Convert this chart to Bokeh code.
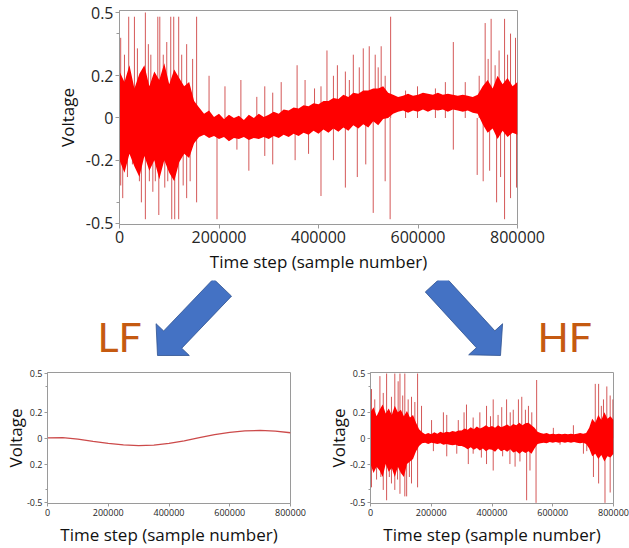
import math
from bokeh.plotting import figure
from bokeh.layouts import column, row
from bokeh.models import FixedTicker, Range1d, Label
from bokeh.embed import file_html
from bokeh.resources import INLINE

# ---------------- data ----------------
x_ticks = [0, 200000, 400000, 600000, 800000]
x_tick_labels = ["0", "200000", "400000", "600000", "800000"]
y_ticks = [-0.5, -0.2, 0, 0.2, 0.5]
y_minor_ticks = [-0.4, 0.4]
y_tick_labels = ["-0.5", "-0.2", "0", "0.2", "0.5"]
lf_y_tick_labels = ["-0.5", "0.2", "0", "0.2", "0.5"]

# sample positions of the envelope readings (every 10000 samples)
time_step = list(range(0, 800001, 10000))

# raw signal: dense core envelope
raw_upper = [0.22, 0.17, 0.25, 0.14, 0.21, 0.25, 0.15, 0.22, 0.18, 0.26, 0.16, 0.23, 0.19, 0.15, 0.17, 0.08,
             0.05, 0.02, 0.035, 0.005, 0.02, -0.005, 0.015, 0.0, 0.01, -0.01, 0.015, 0.0, 0.02, 0.005,
             0.015, 0.03, 0.02, 0.04, 0.035, 0.05, 0.045, 0.06, 0.055, 0.07, 0.065, 0.08, 0.08, 0.095, 0.09,
             0.11, 0.10, 0.12, 0.115, 0.13, 0.13, 0.14, 0.14, 0.15, 0.12,
             0.11, 0.10, 0.105, 0.115, 0.105, 0.11, 0.12, 0.115, 0.11, 0.12, 0.11, 0.115, 0.11, 0.105, 0.11,
             0.105, 0.10, 0.11,
             0.15, 0.18, 0.14, 0.20, 0.16, 0.19, 0.15, 0.17]
raw_lower = [-0.20, -0.26, -0.17, -0.23, -0.28, -0.18, -0.25, -0.20, -0.29, -0.20, -0.26, -0.30, -0.21, -0.17,
             -0.19, -0.12,
             -0.09, -0.08, -0.095, -0.085, -0.10, -0.09, -0.11, -0.095, -0.10, -0.09, -0.105, -0.095, -0.10, -0.09,
             -0.10, -0.085, -0.095, -0.08, -0.09, -0.075, -0.085, -0.07, -0.08, -0.06, -0.075, -0.055, -0.07,
             -0.05, -0.065, -0.045, -0.06, -0.035, -0.05, -0.03, -0.045, -0.015, -0.035, -0.005, 0.0,
             0.02, 0.03, 0.035, 0.025, 0.035, 0.03, 0.04, 0.03, 0.04, 0.035, 0.04, 0.03, 0.04, 0.035, 0.03,
             0.035, 0.025, 0.02,
             -0.03, -0.07, -0.05, -0.10, -0.06, -0.09, -0.07, -0.08]

# raw signal: isolated spikes (sample, peak voltage)
raw_spike_x = [2400, 10000, 18500, 30000, 36000, 52000, 58000, 63000, 77000, 81000, 88000, 95000, 103000,
               109000, 119000, 125000, 135000, 147000, 155000, 180000, 212000, 244000, 276000, 292000, 308000,
               325000, 357000, 373000, 392000, 405000, 417000, 430000, 438000, 454000, 462000, 470000, 482000,
               490000, 502000, 514000, 520000, 526000, 534000, 545000, 575000, 599000, 635000, 655000,
               671000, 695000, 723000, 735000, 741000, 747000, 755000, 763000, 774000, 780000, 786000, 796000,
               2400, 6500, 16000, 26000, 40000, 44000, 52000, 60000, 67000, 72000, 79000, 91000, 97000,
               105000, 111000, 119000, 128000, 135000, 142000, 155000, 196000, 236000, 260000, 292000,
               308000, 353000, 380000, 405000, 430000, 454000, 478000, 495000, 510000, 534000, 544000,
               671000, 719000, 731000, 744000, 758000, 766000, 774000, 786000, 798000]
raw_spike_v = [0.38, 0.30, 0.48, 0.48, 0.33, 0.50, 0.35, 0.30, 0.48, 0.48, 0.30, 0.36, 0.48,
               0.48, 0.48, 0.30, 0.35, 0.28, 0.48, 0.20, 0.15, 0.18, 0.10, 0.15, 0.12,
               0.17, 0.25, 0.18, 0.14, 0.15, 0.32, 0.20, 0.25, 0.22, 0.18, 0.30, 0.24,
               0.33, 0.34, 0.30, 0.24, 0.34, 0.20, 0.48, 0.13, 0.15, 0.14, 0.17,
               0.36, 0.17, 0.20, 0.45, 0.28, 0.47, 0.25, 0.32, 0.47, 0.30, 0.40, 0.38,
               -0.32, -0.38, -0.28, -0.22, -0.30, -0.40, -0.48, -0.30, -0.35, -0.30, -0.46, -0.33, -0.30,
               -0.48, -0.48, -0.48, -0.32, -0.38, -0.30, -0.40, -0.48, -0.15, -0.25, -0.18,
               -0.22, -0.20, -0.17, -0.37, -0.20, -0.33, -0.28, -0.22, -0.45, -0.30, -0.48,
               -0.15, -0.27, -0.30, -0.25, -0.40, -0.28, -0.48, -0.38, -0.33]

# low-frequency component
lf_x = [0, 50000, 100000, 150000, 200000, 250000, 300000, 350000, 400000, 450000, 500000, 550000,
        600000, 650000, 700000, 750000, 800000]
lf_v = [0.003, 0.005, -0.008, -0.025, -0.040, -0.052, -0.057, -0.053, -0.040, -0.020, 0.005, 0.028,
        0.045, 0.056, 0.060, 0.055, 0.042]

# high-frequency component: dense core envelope
hf_upper = [0.20, 0.24, 0.17, 0.22, 0.26, 0.19, 0.23, 0.18, 0.25, 0.20, 0.22, 0.17, 0.21, 0.16, 0.18, 0.12, 0.07,
            0.045, 0.03, 0.04, 0.03, 0.045, 0.035, 0.05, 0.04, 0.05, 0.045, 0.055, 0.05, 0.06,
            0.06, 0.075, 0.065, 0.085, 0.07, 0.09, 0.075, 0.085, 0.10, 0.085, 0.095, 0.08, 0.10, 0.085, 0.095,
            0.105, 0.09, 0.11, 0.10, 0.12, 0.10, 0.115, 0.12, 0.10, 0.08,
            0.05, 0.04, 0.035, 0.04, 0.03, 0.035, 0.03, 0.035, 0.03, 0.035, 0.03, 0.035, 0.03, 0.035, 0.04,
            0.035, 0.04,
            0.08, 0.15, 0.12, 0.18, 0.14, 0.20, 0.15, 0.17, 0.14]
hf_lower = [-0.20, -0.27, -0.22, -0.25, -0.30, -0.20, -0.26, -0.23, -0.30, -0.22, -0.27, -0.30, -0.20, -0.18,
            -0.16, -0.10, -0.06,
            -0.04, -0.035, -0.045, -0.035, -0.04, -0.045, -0.04, -0.05, -0.045, -0.05, -0.055, -0.05, -0.06,
            -0.06, -0.07, -0.085, -0.07, -0.09, -0.075, -0.095, -0.08, -0.10, -0.085, -0.09, -0.105, -0.08,
            -0.10, -0.09, -0.105, -0.085, -0.11, -0.10, -0.12, -0.10, -0.115, -0.10, -0.12, -0.08,
            -0.045, -0.04, -0.035, -0.04, -0.03, -0.035, -0.03, -0.035, -0.03, -0.035, -0.03, -0.035, -0.03,
            -0.035, -0.04, -0.035, -0.045,
            -0.08, -0.14, -0.12, -0.16, -0.13, -0.18, -0.14, -0.15, -0.12]

# high-frequency component: isolated spikes
hf_spike_x = [3300, 14000, 31000, 42000, 53000, 69000, 80000, 91000, 97000, 106000, 113000, 124000, 135000,
              146000, 155000, 168000, 201000, 240000, 251000, 289000, 308000, 316000, 338000, 360000, 382000,
              395000, 404000, 420000, 432000, 448000, 460000, 470000, 487000, 498000, 510000, 520000, 531000,
              547000, 602000, 668000, 740000, 751000, 760000, 767000, 778000, 789000, 798000,
              3300, 20000, 34000, 42000, 53000, 62000, 69000, 80000, 89000, 97000, 113000, 119000, 128000,
              135000, 155000, 207000, 251000, 284000, 322000, 338000, 365000, 382000, 404000, 435000, 459000,
              476000, 492000, 514000, 525000, 545000, 624000, 701000, 712000, 734000, 751000, 772000, 789000]
hf_spike_v = [0.38, 0.30, 0.48, 0.35, 0.50, 0.32, 0.50, 0.44, 0.50, 0.33, 0.50, 0.30, 0.32,
              0.28, 0.50, 0.25, 0.14, 0.20, 0.18, 0.14, 0.20, 0.26, 0.16, 0.20, 0.25,
              0.17, 0.30, 0.18, 0.24, 0.30, 0.20, 0.22, 0.30, 0.32, 0.22, 0.25, 0.20,
              0.45, 0.08, 0.10, 0.42, 0.42, 0.25, 0.30, 0.40, 0.33, 0.30,
              -0.38, -0.32, -0.30, -0.40, -0.48, -0.30, -0.35, -0.40, -0.32, -0.43, -0.45, -0.45, -0.30,
              -0.35, -0.38, -0.10, -0.14, -0.12, -0.20, -0.12, -0.15, -0.20, -0.25, -0.14, -0.20,
              -0.22, -0.18, -0.48, -0.25, -0.50, -0.05, -0.12, -0.10, -0.30, -0.35, -0.50, -0.42]

# ---------------- styling helpers ----------------
FONT = "Open Sans"
CORE = "#ff0000"
SPIKE = "#cc3b3b"
GRAY = "#9a9a9a"


def make_panel(width, height, borders, tick_size, y_labels, tick_out, x_standoff, y_standoff, y_top):
    left, right, top, bottom = borders
    p = figure(width=width, height=height, output_backend="svg", toolbar_location=None,
               x_range=Range1d(0, 800000), y_range=Range1d(-0.505, y_top),
               min_border_left=left, min_border_right=right, min_border_top=top, min_border_bottom=bottom)
    p.grid.visible = False
    p.outline_line_color = GRAY
    p.outline_line_width = 1
    p.xaxis.ticker = FixedTicker(ticks=x_ticks, minor_ticks=[])
    p.xaxis.major_label_overrides = dict(zip(x_ticks, x_tick_labels))
    p.yaxis.ticker = FixedTicker(ticks=y_ticks, minor_ticks=y_minor_ticks)
    p.yaxis.major_label_overrides = dict(zip(y_ticks, y_labels))
    p.xaxis.axis_label = "Time step (sample number)"
    p.yaxis.axis_label = "Voltage"
    for ax in (p.xaxis, p.yaxis):
        ax.axis_line_color = GRAY
        ax.major_tick_line_color = GRAY
        ax.minor_tick_line_color = GRAY
        ax.major_tick_out = tick_out
        ax.major_tick_in = 0
        ax.minor_tick_out = tick_out - 1
        ax.minor_tick_in = 0
        ax.major_label_text_font = FONT
        ax.major_label_text_font_size = tick_size
        ax.major_label_text_color = "#262626"
        ax.major_label_standoff = 2
        ax.axis_label_text_font = FONT
        ax.axis_label_text_font_size = "17px"
        ax.axis_label_text_font_style = "normal"
        ax.axis_label_text_color = "#111111"
    p.xaxis.axis_label_standoff = x_standoff
    p.yaxis.axis_label_standoff = y_standoff
    return p


def draw_signal(p, upper, lower, spike_x, spike_v):
    p.segment(x0=spike_x, y0=[0] * len(spike_x), x1=spike_x, y1=spike_v,
              line_color=SPIKE, line_width=1, line_alpha=0.85)
    p.varea(x=time_step, y1=lower, y2=upper, fill_color=CORE)


# ---------------- top: raw signal ----------------
top = make_panel(629, 280, (119, 112, 10, 56), "16px", y_tick_labels, 4, 4, 4, 0.5095)
draw_signal(top, raw_upper, raw_lower, raw_spike_x, raw_spike_v)

# ---------------- middle: arrows and labels (page-pixel coordinates) ----------------
MID_Y0, MID_H = 280, 84
mid = figure(width=629, height=MID_H, output_backend="svg", toolbar_location=None,
             x_range=Range1d(0, 629), y_range=Range1d(-(MID_Y0 + MID_H), -MID_Y0),
             x_axis_location=None, y_axis_location=None, min_border=0)
mid.grid.visible = False
mid.outline_line_color = None


def arrow_poly(tail, tip, shaft_half, head_half, head_len):
    dx, dy = tip[0] - tail[0], tip[1] - tail[1]
    L = math.hypot(dx, dy)
    ux, uy = dx / L, dy / L
    px, py = -uy, ux
    bx, by = tip[0] - head_len * ux, tip[1] - head_len * uy
    pts = [(tail[0] + shaft_half * px, tail[1] + shaft_half * py),
           (bx + shaft_half * px, by + shaft_half * py),
           (bx + head_half * px, by + head_half * py),
           tip,
           (bx - head_half * px, by - head_half * py),
           (bx - shaft_half * px, by - shaft_half * py),
           (tail[0] - shaft_half * px, tail[1] - shaft_half * py)]
    return [q[0] for q in pts], [-q[1] for q in pts]


for tail, tip in (((222, 287), (157, 355)), ((434, 283), (500, 355))):
    xs, ys = arrow_poly(tail, tip, 12.5, 23, 22)
    mid.patch(xs, ys, fill_color="#4472c4", line_color="#2f528f", line_width=0.8)

for txt, xpage in (("LF", 97), ("HF", 537)):
    mid.add_layout(Label(x=xpage, y=-336, text=txt,
                         text_font="Liberation Sans Narrow, Lato, sans-serif", text_font_size="41px",
                         text_color="#c55a11", text_baseline="middle"))

# ---------------- bottom: LF and HF ----------------
lf = make_panel(320, 184, (47, 30, 8, 45), "9px", lf_y_tick_labels, 3, 4, -3, 0.508)
lf.line(lf_x, lf_v, line_color="#cc4a4a", line_width=1.3)

hf = make_panel(309, 184, (50, 16, 8, 45), "9px", y_tick_labels, 3, 4, -3, 0.508)
draw_signal(hf, hf_upper, hf_lower, hf_spike_x, hf_spike_v)

layout = column(top, row(mid), row(lf, hf))
open("out.html", "w").write(file_html(layout, INLINE))
